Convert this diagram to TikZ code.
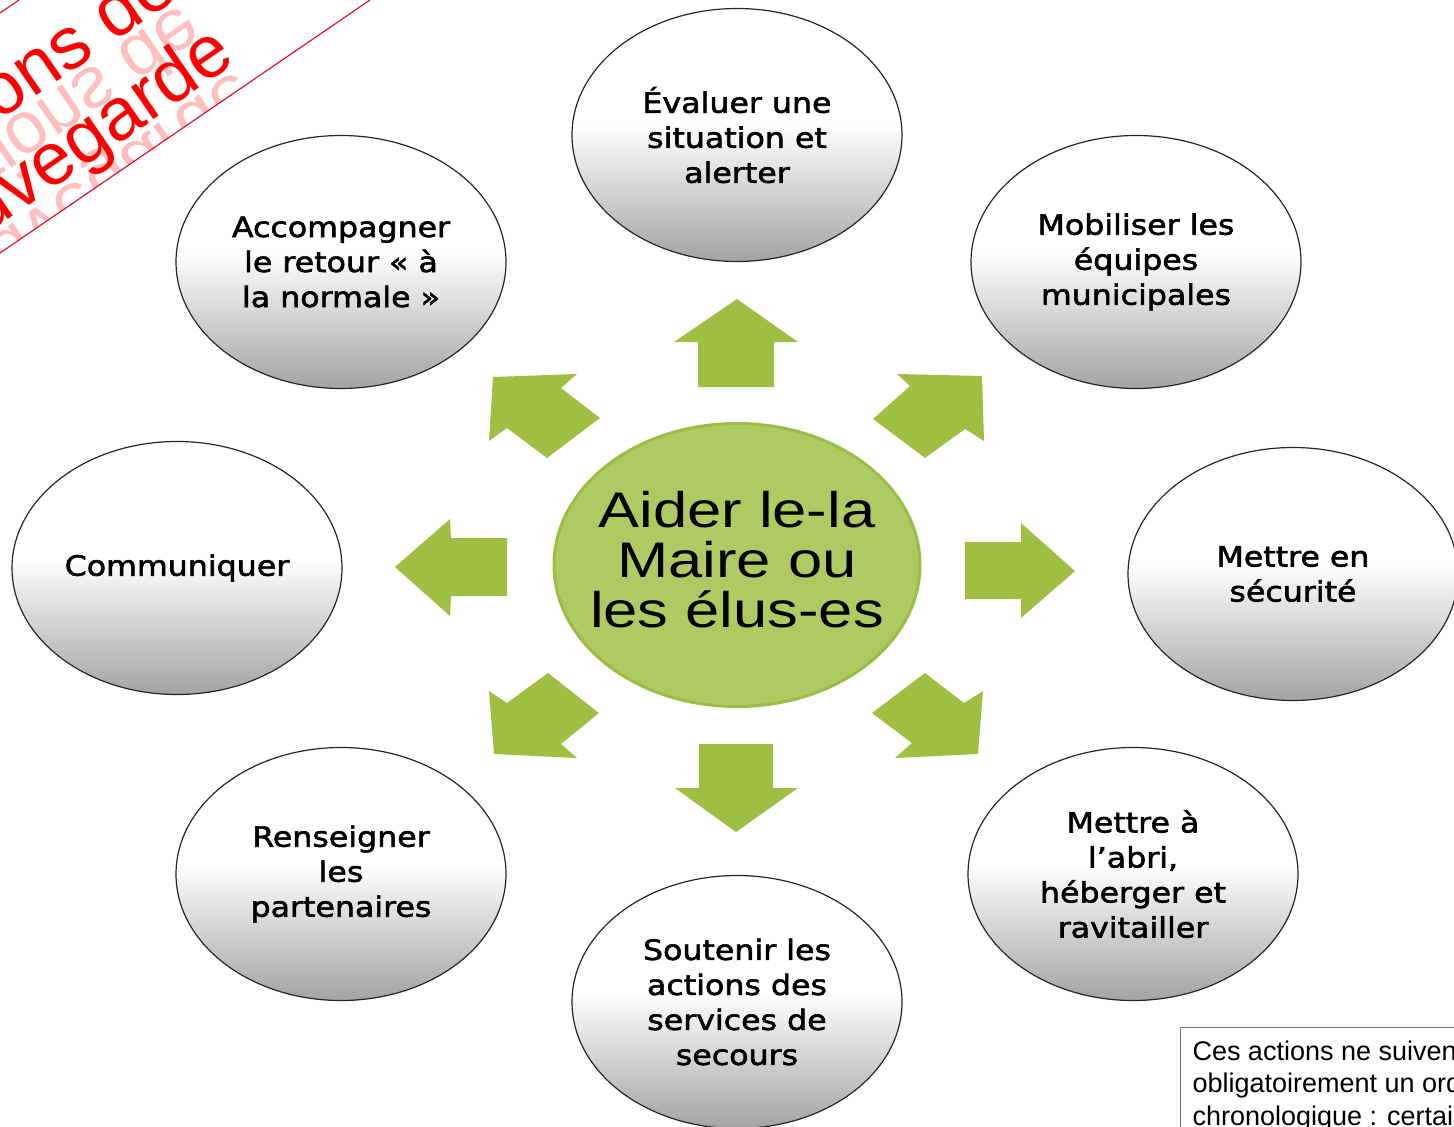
\documentclass[tikz,border=0pt]{standalone}
\usepackage{fontspec}
\setmainfont{Liberation Sans}
\newfontfamily\ovalfont[FakeStretch=1.13,FakeBold=2]{DejaVu Sans}
\newfontfamily\centrefont[FakeStretch=1.23]{Liberation Sans}
\usetikzlibrary{shapes.geometric}

\definecolor{arrowgreen}{RGB}{159,190,66}
\definecolor{centrefill}{RGB}{174,202,98}
\definecolor{centreline}{RGB}{155,189,70}
\definecolor{bandred}{RGB}{225,20,45}
\pgfdeclareverticalshading{ovalshade}{100bp}{color(0bp)=(black!36); color(25bp)=(black!36); color(52bp)=(white); color(100bp)=(white)}

\tikzset{
    action/.style={ellipse, draw=black!85, line width=1.2pt, shade, shading=ovalshade,
        minimum width=330pt, minimum height=253pt, inner sep=0pt, align=center,
        font=\ovalfont\fontsize{28}{35}\selectfont},
    watermark/.style={text=red, font=\fontsize{74}{80}\selectfont, inner sep=0pt, rotate=34.5},
    mirror/.style={text=red!25, font=\fontsize{74}{80}\selectfont, inner sep=0pt, rotate=34.5, yscale=-1},
}

\begin{document}
\begin{tikzpicture}[x=1pt, y=-1pt]
    \useasboundingbox (0, 0) rectangle (1454, 1127);
    \clip (0, 0) rectangle (1454, 1127);

    % Bandeau
    \begin{scope}
        \clip (0, 0) -- (370, 0) -- (0, 253) -- cycle;
        \node[mirror, anchor=base east] at (238, 69) {sauvegarde};
        \node[mirror, anchor=base east] at (182, 3) {Actions de};
    \end{scope}
    \node[watermark, anchor=base east] (wmB) at (238, 62) {sauvegarde};
    \node[watermark, anchor=base east] (wmA) at (182, -4) {Actions de};
    \draw [bandred, line width=1.2pt] (0, 253) -- (370, 0);
    \draw [bandred, line width=1.2pt] (0, 13) -- (19, 0);

    % Actions
    \node[action] (evaluer) at (737, 135) {Évaluer une\\situation et\\alerter};
    \node[action] (mobiliser) at (1136, 262) {Mobiliser les\\équipes\\municipales};
    \node[action] (securite) at (1293, 574) {Mettre en\\sécurité};
    \node[action] (abri) at (1133, 874) {Mettre à\\l’abri,\\héberger et\\ravitailler};
    \node[action] (soutenir) at (737, 1002) {Soutenir les\\actions des\\services de\\secours};
    \node[action] (renseigner) at (341, 874) {Renseigner\\les\\partenaires};
    \node[action] (communiquer) at (177, 568) {Communiquer};
    \node[action] (accompagner) at (341, 262) {Accompagner\\le retour « à\\la normale »};

    % Centre
    \node[ellipse, fill=centrefill, draw=centreline, line width=3pt,
        minimum width=366pt, minimum height=283pt, inner sep=0pt] (aider) at (737, 565) {};
    \node[align=center, inner sep=0pt, font=\centrefont\fontsize{50}{50}\selectfont]
        (aidertext) at ([yshift=5pt]aider.center) {Aider le-la\\Maire ou\\les élus-es};

    % Flèches
    \fill [arrowgreen] (737, 299) -- (798, 342) -- (774, 342) -- (774, 387) -- (698, 387) -- (698, 342) -- (674, 342) -- cycle;
    \fill [arrowgreen] (982, 376) -- (984, 441) -- (965, 429) -- (925, 458) -- (873, 419) -- (910, 386) -- (897, 374) -- cycle;
    \fill [arrowgreen] (1075, 571) -- (1021, 523) -- (1021, 542) -- (965, 542) -- (965, 599) -- (1021, 599) -- (1021, 618) -- cycle;
    \fill [arrowgreen] (978, 754) -- (895, 758) -- (912, 743) -- (872, 713) -- (925, 673) -- (964, 703) -- (983, 691) -- cycle;
    \fill [arrowgreen] (736, 832) -- (675, 788) -- (699, 788) -- (699, 744) -- (773, 744) -- (773, 788) -- (798, 788) -- cycle;
    \fill [arrowgreen] (494, 754) -- (489, 691) -- (507, 703) -- (548, 673) -- (599, 713) -- (561, 744) -- (577, 758) -- cycle;
    \fill [arrowgreen] (395, 567) -- (450, 519) -- (451, 538) -- (507, 538) -- (507, 596) -- (451, 596) -- (450, 616) -- cycle;
    \fill [arrowgreen] (493, 377) -- (577, 374) -- (561, 388) -- (600, 418) -- (547, 458) -- (507, 428) -- (489, 441) -- cycle;

    % Remarque
    \node[draw=black!55, line width=1pt, anchor=north west, align=left,
        inner xsep=12pt, inner ysep=13pt, font=\fontsize{27}{32.5}\selectfont] (note) at (1180, 1027)
        {Ces actions ne suivent pas\\obligatoirement un ordre\\chronologique : certaines};
\end{tikzpicture}
\end{document}
